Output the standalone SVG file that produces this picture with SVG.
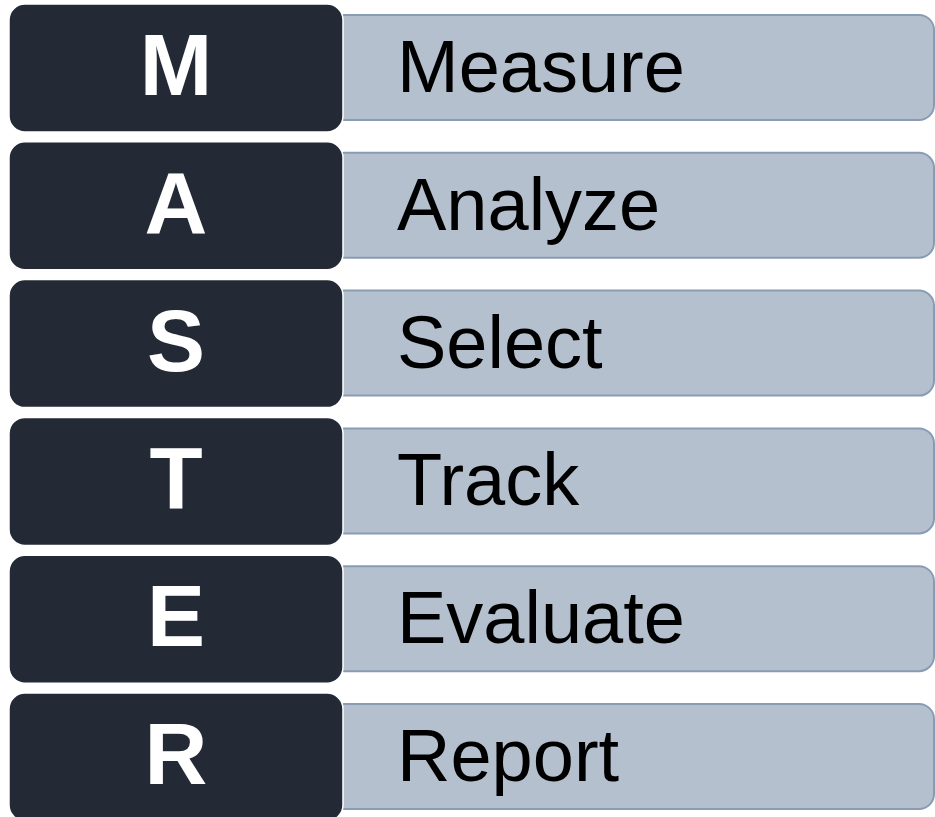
<svg xmlns="http://www.w3.org/2000/svg" width="935" height="817" viewBox="0 0 935 817">
<style>
.lt{fill:#b5c0ce;stroke:#8a9cb4;stroke-width:2}
.dk{fill:#232a36;stroke:#ffffff;stroke-width:1.5}
.let{font-family:"Liberation Sans",Arial,sans-serif;font-weight:bold;font-size:87px;fill:#ffffff;text-anchor:middle}
.wd{font-family:"Liberation Sans",Arial,sans-serif;font-size:74px;fill:#000000}
</style>
<rect width="935" height="817" fill="#ffffff"/>
<g id="row-M" transform="translate(0,0)">
<rect class="lt" x="330" y="15" width="604" height="105" rx="15"/>
<rect class="dk" x="9" y="4" width="334" height="128" rx="16"/>
<text class="let" x="176" y="95">M</text>
<text class="wd" x="397" y="92">Measure</text>
</g>
<g id="row-A" transform="translate(0,137.8)">
<rect class="lt" x="330" y="15" width="604" height="105" rx="15"/>
<rect class="dk" x="9" y="4" width="334" height="128" rx="16"/>
<text class="let" x="176" y="95">A</text>
<text class="wd" x="397" y="92">Analyze</text>
</g>
<g id="row-S" transform="translate(0,275.6)">
<rect class="lt" x="330" y="15" width="604" height="105" rx="15"/>
<rect class="dk" x="9" y="4" width="334" height="128" rx="16"/>
<text class="let" x="176" y="95">S</text>
<text class="wd" x="397" y="92">Select</text>
</g>
<g id="row-T" transform="translate(0,413.4)">
<rect class="lt" x="330" y="15" width="604" height="105" rx="15"/>
<rect class="dk" x="9" y="4" width="334" height="128" rx="16"/>
<text class="let" x="176" y="95">T</text>
<text class="wd" x="397" y="92">Track</text>
</g>
<g id="row-E" transform="translate(0,551.2)">
<rect class="lt" x="330" y="15" width="604" height="105" rx="15"/>
<rect class="dk" x="9" y="4" width="334" height="128" rx="16"/>
<text class="let" x="176" y="95">E</text>
<text class="wd" x="397" y="92">Evaluate</text>
</g>
<g id="row-R" transform="translate(0,689)">
<rect class="lt" x="330" y="15" width="604" height="105" rx="15"/>
<rect class="dk" x="9" y="4" width="334" height="128" rx="16"/>
<text class="let" x="176" y="95">R</text>
<text class="wd" x="397" y="92">Report</text>
</g>
<g id="connectors"/>
</svg>
